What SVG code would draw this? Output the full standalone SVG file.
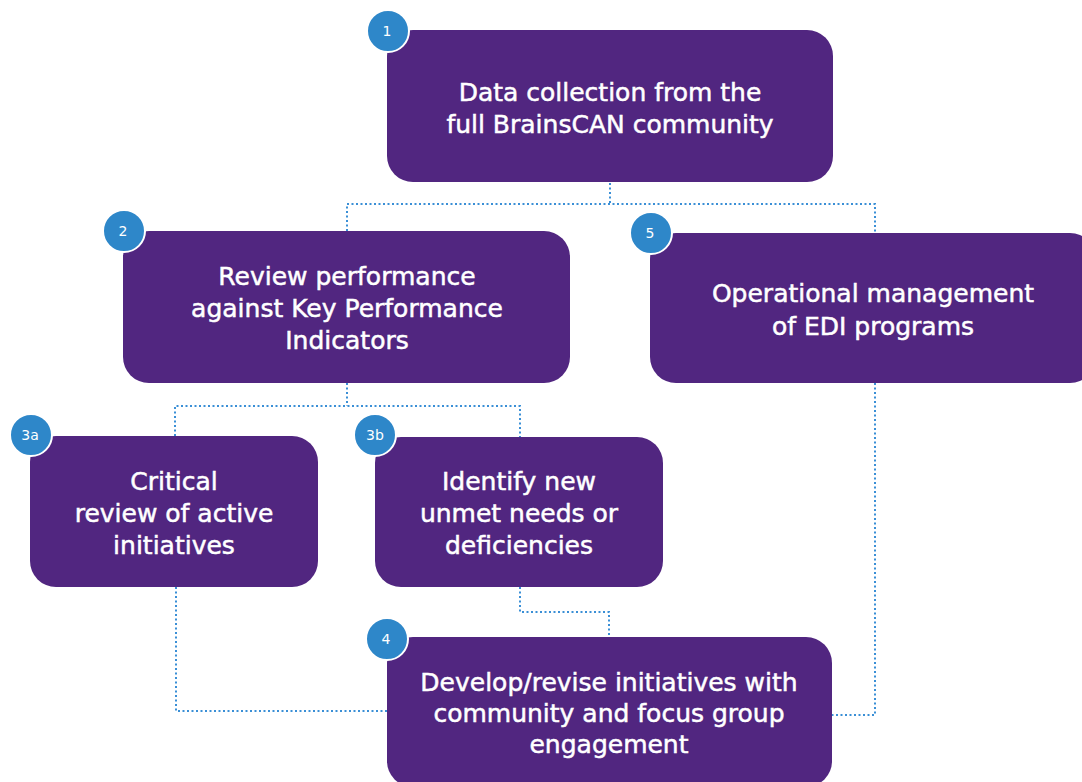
<svg xmlns="http://www.w3.org/2000/svg" width="1082" height="782" viewBox="0 0 1082 782">
  <style>
    .box { fill: #512680; }
    .lbl { font-family: "DejaVu Sans", sans-serif; font-size: 25px; fill: #ffffff; stroke: #ffffff; stroke-width: 0.5; text-anchor: middle; }
    .badge circle { fill: #2e87c9; stroke: #ffffff; stroke-width: 2; }
    .badge text { font-family: "DejaVu Sans", sans-serif; font-size: 14px; fill: #ffffff; text-anchor: middle; }
    .conn { fill: none; stroke: #3a8fd6; stroke-width: 2; stroke-dasharray: 2 2.5; }
  </style>
  <rect width="1082" height="782" fill="#ffffff"/>

  <g id="connectors">
    <polyline class="conn" points="610,183 610,204"/>
    <polyline class="conn" points="347,231 347,204 875,204 875,233"/>
    <polyline class="conn" points="347,383 347,406"/>
    <polyline class="conn" points="175,436 175,406 520,406 520,437"/>
    <polyline class="conn" points="176,587 176,711 387,711"/>
    <polyline class="conn" points="520,587 520,612 609,612 609,637"/>
    <polyline class="conn" points="875,383 875,715 832,715"/>
  </g>

  <g id="node1">
    <rect class="box" x="387" y="30" width="446" height="152" rx="26"/>
    <text class="lbl" x="610" y="101">Data collection from the</text>
    <text class="lbl" x="610" y="133">full BrainsCAN community</text>
    <g class="badge"><circle cx="388" cy="31" r="21"/><text x="387" y="36">1</text></g>
  </g>

  <g id="node2">
    <rect class="box" x="123" y="231" width="447" height="152" rx="26"/>
    <text class="lbl" x="347" y="285">Review performance</text>
    <text class="lbl" x="347" y="317">against Key Performance</text>
    <text class="lbl" x="347" y="349">Indicators</text>
    <g class="badge"><circle cx="124" cy="231" r="21"/><text x="123" y="236">2</text></g>
  </g>

  <g id="node5">
    <rect class="box" x="650" y="233" width="446" height="150" rx="26"/>
    <text class="lbl" x="873" y="302">Operational management</text>
    <text class="lbl" x="873" y="335">of EDI programs</text>
    <g class="badge"><circle cx="651" cy="233" r="21"/><text x="650" y="238">5</text></g>
  </g>

  <g id="node3a">
    <rect class="box" x="30" y="436" width="288" height="151" rx="26"/>
    <text class="lbl" x="174" y="490">Critical</text>
    <text class="lbl" x="174" y="522">review of active</text>
    <text class="lbl" x="174" y="554">initiatives</text>
    <g class="badge"><circle cx="31" cy="435" r="21"/><text x="30" y="440">3a</text></g>
  </g>

  <g id="node3b">
    <rect class="box" x="375" y="437" width="288" height="150" rx="26"/>
    <text class="lbl" x="519" y="490">Identify new</text>
    <text class="lbl" x="519" y="522">unmet needs or</text>
    <text class="lbl" x="519" y="554">deficiencies</text>
    <g class="badge"><circle cx="375" cy="435" r="21"/><text x="375" y="440">3b</text></g>
  </g>

  <g id="node4">
    <rect class="box" x="387" y="637" width="445" height="150" rx="26"/>
    <text class="lbl" x="609" y="691">Develop/revise initiatives with</text>
    <text class="lbl" x="609" y="722">community and focus group</text>
    <text class="lbl" x="609" y="753">engagement</text>
    <g class="badge"><circle cx="387" cy="639" r="21"/><text x="386" y="644">4</text></g>
  </g>
</svg>
